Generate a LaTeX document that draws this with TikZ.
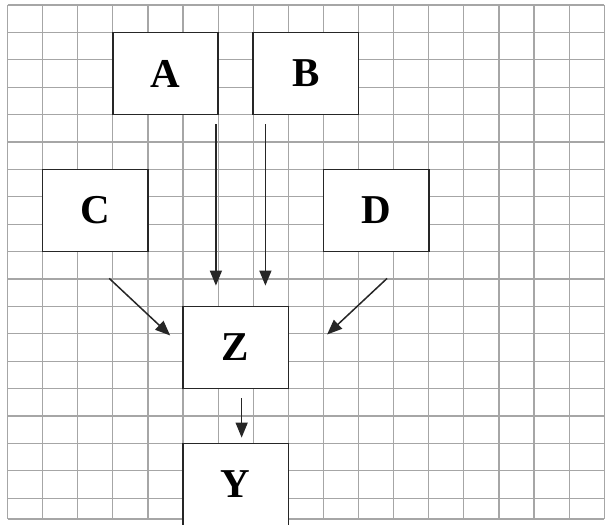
\documentclass[tikz,border=0pt]{standalone}
\usepackage{fontspec}
\setmainfont{Liberation Serif}
\usepackage{tikz}
\usetikzlibrary{arrows.meta}

\begin{document}
\begin{tikzpicture}[
  x=1pt, y=-1pt,
  gridline/.style={draw=black!35, line width=1.2pt},
  box/.style={draw=black!85, line width=1.6pt, fill=white, minimum width=105.3pt, minimum height=82.2pt, inner sep=0pt, font=\fontsize{41}{48}\selectfont\bfseries},
  arrow/.style={-{Triangle[length=15pt, width=12pt]}, line width=1.5pt, draw=black!85, fill=black!85}
]
\clip (0,0) rectangle (612,524);
\fill[white] (0,0) rectangle (612,524);

% Grid paper
\foreach \i in {0,...,17}
  \draw[gridline] ({7.5+35.1*\i},5) -- ({7.5+35.1*\i},519);
\foreach \j in {0,...,18}
  \draw[gridline] (7.5,{5+27.4*\j}) -- (604.2,{5+27.4*\j});
\draw[gridline] (7.5,519) -- (604.2,519);

% Boxes
\node[box] (a) at (165.45,73.5) {A};
\node[box] (b) at (305.85,73.5) {B};
\node[box] (c) at (95.25,210.5) {C};
\node[box] (d) at (376.05,210.5) {D};
\node[box] (z) at (235.65,347.5) {Z};
\node[box] (y) at (235.65,484.5) {Y};

% Arrows
\draw[arrow, shorten <=9pt, shorten >=20pt] ([xshift=-3pt]a.south east) -- ([xshift=-3pt]a.south east |- z.north);
\draw[arrow, shorten <=9pt, shorten >=20pt] ([xshift=13pt]b.south west) -- ([xshift=13pt]b.south west |- z.north);
\draw[arrow] ([xshift=14pt, yshift=-26pt]c.south) -- ([xshift=-12pt, yshift=12pt]z.west);
\draw[arrow] ([xshift=11pt, yshift=-26pt]d.south) -- ([xshift=38pt, yshift=13pt]z.east);
\draw[arrow, shorten <=9pt, shorten >=5pt] ([xshift=6pt]z.south) -- ([xshift=6pt]y.north);
\end{tikzpicture}
\end{document}
